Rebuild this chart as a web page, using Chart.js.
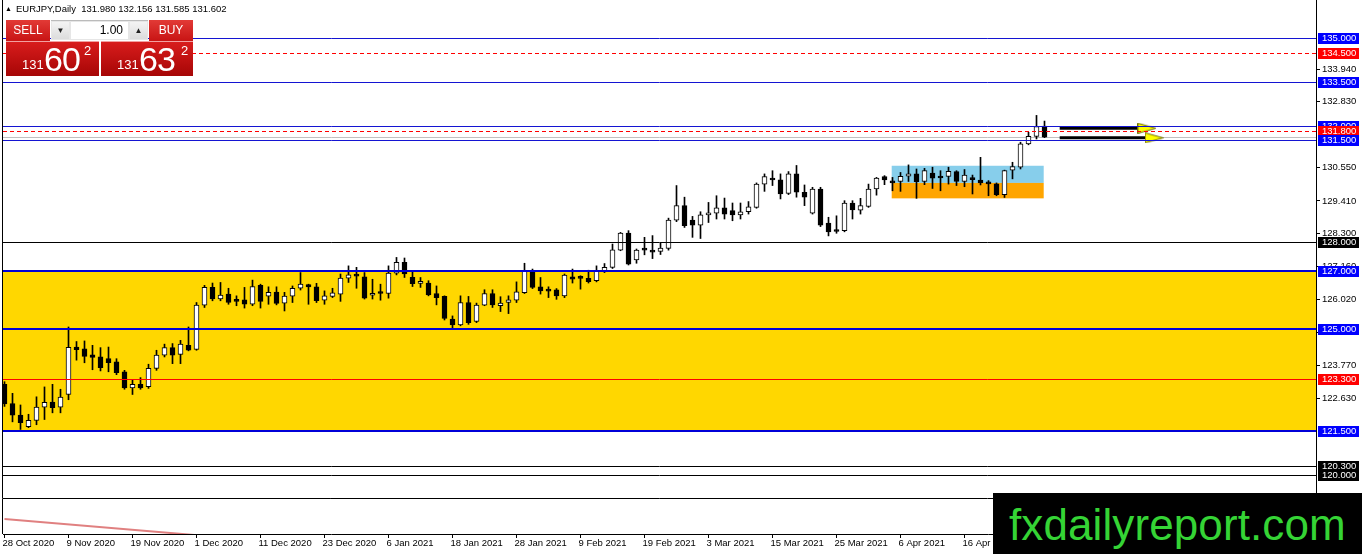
<!DOCTYPE html>
<html>
<head>
<meta charset="utf-8">
<script src="https://cdn.jsdelivr.net/npm/chart.js@4.4.1/dist/chart.umd.min.js"></script>
<style>
    body { margin: 0; width: 1362px; height: 554px; overflow: hidden; position: relative; background: #fff; font-family: "Liberation Sans", Arial, sans-serif; }
    #mainBox { position: absolute; left: 0; top: 0; width: 1362px; height: 499px; }
    #subBox { position: absolute; left: 0; top: 499px; width: 1362px; height: 55px; }
    #header { position: absolute; left: 5px; top: 3px; font-size: 9.5px; color: #000; white-space: pre; }
    #header .tri { font-size: 7px; position: relative; top: -1px; margin-right: 4px; }
    .btn { position: absolute; top: 20px; height: 21px; width: 44px; color: #fff; font-size: 12px; line-height: 21px; text-align: center; background: linear-gradient(#e23a36, #c81414); }
    #spin { position: absolute; left: 51px; top: 20px; width: 97px; height: 20px; background: #e6e6e6; border-top: 1px solid #bbb; box-sizing: border-box; }
    #spin .arr { position: absolute; top: 1px; width: 17px; height: 17px; font-size: 8px; line-height: 17px; text-align: center; background: linear-gradient(#f4f4f4, #dcdcdc); color: #222; }
    #spin .val { position: absolute; left: 20px; top: 1px; width: 57px; height: 17px; background: #fff; font-size: 12px; line-height: 17px; text-align: right; box-sizing: border-box; padding-right: 5px; }
    .price { position: absolute; top: 41px; height: 35px; color: #fff; background: linear-gradient(#d81c1c, #a60606); border-top: 1px solid #f2a0a0; box-sizing: border-box; }
    .price .small { position: absolute; bottom: 4px; font-size: 13px; }
    .price .big { position: absolute; bottom: -3px; font-size: 34px; letter-spacing: -1px; }
    .price .sup { position: absolute; top: 1px; font-size: 13px; }
    #logo { position: absolute; left: 993px; top: 493px; width: 369px; height: 61px; background: #000; }
    #logo span { position: absolute; left: 16px; top: 10px; font-size: 44px; line-height: 44px; color: #35d435; letter-spacing: 0.1px; }
</style>
</head>
<body>
<div id="mainBox"><canvas id="priceChart"></canvas></div>
<div id="subBox"><canvas id="subChart"></canvas></div>
<div id="header"></div>
<div class="btn" style="left:6px">SELL</div>
<div id="spin">
    <div class="arr" style="left:1px">&#9660;</div>
    <div class="val">1.00</div>
    <div class="arr" style="left:79px">&#9650;</div>
</div>
<div class="btn" style="left:149px">BUY</div>
<div class="price" style="left:6px;width:93px"><span class="small" style="left:16px">131</span><span class="big" style="left:38px">60</span><span class="sup" style="left:78px">2</span></div>
<div class="price" style="left:101px;width:92px"><span class="small" style="left:16px">131</span><span class="big" style="left:38px">63</span><span class="sup" style="left:80px">2</span></div>
<div id="logo"><span>fxdailyreport.com</span></div>
<script>
// EURJPY daily, bar 0 = 28 Oct 2020
const opens = [
    123.11, 122.45, 122.05, 121.65, 121.87, 122.32, 122.50, 122.32, 122.76, 124.39,
    124.33, 124.12, 124.05, 123.99, 123.88, 123.54, 122.99, 123.11, 123.03, 123.66,
    124.11, 124.37, 124.14, 124.45, 124.31, 125.83, 126.44, 126.04, 126.21, 126.01,
    126.01, 125.86, 126.51, 126.14, 126.28, 125.90, 126.14, 126.41, 126.54, 126.46,
    126.00, 126.13, 126.21, 126.76, 126.87, 126.80, 126.17, 126.24, 126.23, 126.93,
    127.30, 126.79, 126.58, 126.59, 126.23, 126.13, 125.35, 125.15, 125.92, 125.27,
    125.83, 126.23, 125.81, 125.92, 126.00, 126.26, 127.03, 126.46, 126.32, 126.36,
    126.15, 126.80, 126.76, 126.75, 126.67, 126.99, 127.13, 127.72, 128.31, 127.38,
    127.74, 127.69, 127.68, 127.78, 128.75, 129.25, 128.75, 128.58, 128.93, 128.99,
    129.17, 129.08, 128.93, 129.04, 129.19, 129.99, 130.20, 130.14, 129.67, 130.34,
    129.71, 128.99, 129.82, 128.65, 128.42, 128.39, 129.34, 129.09, 129.22, 129.82,
    130.25, 130.07, 130.08, 130.26, 130.34, 130.08, 130.37, 130.25, 130.25, 130.42,
    130.08, 130.21, 130.13, 130.05, 130.00, 129.63, 130.47, 130.57, 131.37, 131.63,
    131.980
];
const highs = [
    123.20, 122.80, 122.40, 122.08, 122.68, 123.02, 123.11, 122.94, 125.08, 124.58,
    124.60, 124.45, 124.37, 124.39, 123.99, 123.59, 123.26, 123.34, 123.80, 124.28,
    124.49, 124.51, 124.62, 125.08, 125.92, 126.51, 126.59, 126.61, 126.41, 126.15,
    126.44, 126.69, 126.55, 126.46, 126.46, 126.27, 126.49, 126.95, 126.55, 126.58,
    126.32, 126.41, 126.90, 127.18, 127.13, 126.95, 126.72, 126.55, 127.18, 127.47,
    127.45, 126.99, 126.78, 126.67, 126.49, 126.15, 125.46, 126.15, 126.13, 125.90,
    126.36, 126.36, 126.12, 126.15, 126.63, 127.27, 127.07, 126.78, 126.46, 126.40,
    126.90, 127.07, 126.84, 127.03, 127.18, 127.26, 127.93, 128.33, 128.39, 127.76,
    128.16, 128.22, 127.96, 128.82, 129.94, 129.54, 128.88, 129.04, 129.36, 129.59,
    129.51, 129.34, 129.34, 129.39, 130.03, 130.34, 130.45, 130.34, 130.42, 130.63,
    129.96, 129.88, 129.88, 128.85, 128.90, 129.42, 129.42, 129.50, 129.99, 130.22,
    130.28, 130.22, 130.39, 130.65, 130.51, 130.53, 130.57, 130.45, 130.57, 130.45,
    130.49, 130.30, 130.91, 130.11, 130.03, 130.47, 130.74, 131.43, 131.77, 132.35,
    132.156
];
const lows = [
    122.35, 121.82, 121.56, 121.62, 121.72, 121.90, 122.13, 122.13, 122.58, 123.94,
    123.85, 123.61, 123.57, 123.54, 123.44, 122.94, 122.76, 122.94, 122.97, 123.59,
    124.05, 123.82, 123.82, 124.26, 124.28, 125.75, 125.98, 125.98, 125.86, 125.81,
    125.73, 125.81, 125.73, 125.86, 125.84, 125.63, 125.92, 126.35, 125.86, 125.92,
    125.86, 126.09, 125.96, 126.61, 126.41, 126.04, 126.04, 126.00, 126.07, 126.87,
    126.78, 126.47, 126.44, 126.15, 125.84, 125.32, 125.00, 125.12, 125.17, 125.23,
    125.81, 125.75, 125.61, 125.54, 125.92, 126.23, 126.40, 126.21, 126.09, 126.03,
    126.09, 126.59, 126.38, 126.59, 126.63, 126.95, 127.09, 127.70, 127.21, 127.27,
    127.56, 127.43, 127.57, 127.72, 128.70, 128.50, 128.16, 128.12, 128.67, 128.79,
    128.79, 128.73, 128.79, 128.96, 129.16, 129.74, 129.94, 129.48, 129.63, 129.54,
    129.25, 128.96, 128.53, 128.21, 128.30, 128.35, 128.79, 128.96, 129.19, 129.61,
    129.97, 129.76, 129.74, 130.08, 129.50, 129.97, 129.84, 129.76, 129.99, 129.94,
    129.90, 129.65, 129.96, 129.59, 129.59, 129.53, 130.17, 130.51, 131.34, 131.54,
    131.585
];
const closes = [
    122.44, 122.05, 121.79, 121.87, 122.33, 122.49, 122.31, 122.67, 124.38, 124.30,
    124.07, 124.03, 123.68, 123.85, 123.51, 122.99, 123.11, 122.99, 123.66, 124.11,
    124.37, 124.11, 124.49, 124.28, 125.83, 126.44, 126.04, 126.18, 125.92, 125.96,
    125.86, 126.47, 125.96, 126.27, 125.89, 126.14, 126.41, 126.55, 126.46, 125.98,
    126.15, 126.25, 126.76, 126.87, 126.83, 126.07, 126.24, 126.23, 126.93, 127.30,
    126.90, 126.57, 126.60, 126.18, 126.09, 125.37, 125.15, 125.92, 125.23, 125.83,
    126.23, 125.84, 125.90, 126.01, 126.29, 127.03, 126.44, 126.32, 126.31, 126.15,
    126.86, 126.72, 126.75, 126.64, 126.99, 127.13, 127.73, 128.31, 127.24, 127.72,
    127.72, 127.65, 127.79, 128.75, 129.25, 128.56, 128.58, 128.93, 128.96, 129.17,
    128.96, 128.93, 129.04, 129.21, 129.99, 130.25, 130.13, 129.65, 130.34, 129.71,
    129.54, 129.82, 128.58, 128.35, 128.36, 129.34, 129.10, 129.25, 129.82, 130.20,
    130.13, 130.03, 130.26, 130.34, 130.07, 130.45, 130.19, 130.20, 130.43, 130.08,
    130.30, 130.14, 130.03, 130.00, 129.63, 130.45, 130.59, 131.37, 131.63, 131.97,
    131.602
];

const dateTickBars = [0, 8, 16, 24, 32, 40, 48, 56, 64, 72, 80, 88, 96, 104, 112, 120, 128];
const dateTickLabels = ["28 Oct 2020", "9 Nov 2020", "19 Nov 2020", "1 Dec 2020", "11 Dec 2020", "23 Dec 2020",
    "6 Jan 2021", "18 Jan 2021", "28 Jan 2021", "9 Feb 2021", "19 Feb 2021", "3 Mar 2021", "15 Mar 2021",
    "25 Mar 2021", "6 Apr 2021", "16 Apr 2021", "28 Apr 2021"];
const priceTicks = [133.94, 132.83, 130.55, 129.41, 128.30, 127.16, 126.02, 124.88, 123.77, 122.63];

// horizontal levels drawn by hand on the chart
const levelPrices = [135.0, 134.5, 133.5, 132.0, 131.8, 131.5, 128.0, 127.0, 125.0, 123.3, 121.5, 120.3, 120.0];
const zoneRange = [121.5, 127.0];
const boxBars = [110.9, 129.9];
const boxPrices = [130.62, 130.03, 129.50];
const arrowStartBars = [131.9, 131.9];
const arrowEndBars = [142.8, 143.7];
const arrowPrices = [131.91, 131.58];
const subLineBars = [0, 30];
const subLineValues = [0.43, -0.15];

// styles for each level, same order as levelPrices
const levelStyle = [
    { line: "#1414d2", width: 1, box: "#0000ff" },
    { line: "#ff0000", width: 1, dash: [4, 3], box: "#ff0000" },
    { line: "#1414d2", width: 1, box: "#0000ff" },
    { line: "#1414d2", width: 1, box: "#0000ff" },
    { line: "#ff0000", width: 1, dash: [4, 3], box: "#ff0000" },
    { line: "#1414d2", width: 1, box: "#0000ff" },
    { line: "#000000", width: 1, box: "#000000" },
    { line: "#0000d8", width: 2, box: "#0000ff" },
    { line: "#0000d8", width: 2, box: "#0000ff" },
    { line: "#ff0000", width: 1, box: "#ff0000" },
    { line: "#0000d8", width: 2, box: "#0000ff" },
    { line: "#000000", width: 1, box: "#000000" },
    { line: "#000000", width: 1, box: "#000000" }
];

const last = closes.length - 1;
const xMin = -0.1875;
const xMax = 163.9375;
const axisFont = { family: "'Liberation Sans', Arial, sans-serif", size: 9.5 };

Chart.defaults.font.family = axisFont.family;

document.getElementById("header").innerHTML = '<span class="tri">&#9650;</span>EURJPY,Daily  ' +
    [opens[last], highs[last], lows[last], closes[last]].map((v) => v.toFixed(3)).join(" ");

function makeFlag() {
    const c = document.createElement("canvas");
    c.width = 19;
    c.height = 11;
    const g = c.getContext("2d");
    g.beginPath();
    g.moveTo(0.5, 0.5);
    g.lineTo(18.5, 5.5);
    g.lineTo(0.5, 10.5);
    g.closePath();
    g.fillStyle = "#ffff00";
    g.fill();
    g.strokeStyle = "#6e6e00";
    g.lineWidth = 1;
    g.stroke();
    return c;
}

function crisp(v) {
    return Math.round(v) + 0.5;
}

const flagImage = makeFlag();
const barIndex = opens.map((_, i) => i);
const wickData = barIndex.map((i) => ({ x: i, y: [lows[i], highs[i]] }));
const bodyData = barIndex.map((i) => ({ x: i, y: [opens[i], closes[i]] }));

const arrowSets = arrowPrices.map((p, k) => ({
    type: "line",
    data: [{ x: arrowStartBars[k], y: p }, { x: arrowEndBars[k], y: p }],
    borderColor: "#000",
    borderWidth: 3,
    pointRadius: (ctx) => (ctx.dataIndex === 1 ? 5 : 0),
    pointStyle: (ctx) => (ctx.dataIndex === 1 ? flagImage : "circle"),
    order: 1
}));

const levelsPlugin = {
    id: "levels",
    beforeDatasetsDraw(chart) {
        const { ctx, chartArea: a, scales: { x, y } } = chart;
        ctx.save();
        ctx.beginPath();
        ctx.rect(a.left, a.top, a.width, a.height);
        ctx.clip();

        const zTop = y.getPixelForValue(zoneRange[1]);
        const zBottom = y.getPixelForValue(zoneRange[0]);
        ctx.fillStyle = "#ffd700";
        ctx.fillRect(a.left, zTop, a.width, zBottom - zTop);

        const bx1 = x.getPixelForValue(boxBars[0]);
        const bx2 = x.getPixelForValue(boxBars[1]);
        const b0 = y.getPixelForValue(boxPrices[0]);
        const b1 = y.getPixelForValue(boxPrices[1]);
        const b2 = y.getPixelForValue(boxPrices[2]);
        ctx.fillStyle = "#87ceeb";
        ctx.fillRect(bx1, b0, bx2 - bx1, b1 - b0);
        ctx.fillStyle = "#ffa500";
        ctx.fillRect(bx1, b1, bx2 - bx1, b2 - b1);

        const bid = crisp(y.getPixelForValue(closes[last]));
        ctx.strokeStyle = "#c0c0c0";
        ctx.lineWidth = 1;
        ctx.beginPath();
        ctx.moveTo(a.left, bid);
        ctx.lineTo(a.right, bid);
        ctx.stroke();
        ctx.restore();
    },
    afterDatasetsDraw(chart) {
        const { ctx, chartArea: a, scales: { y } } = chart;
        ctx.save();
        levelPrices.forEach((p, k) => {
            const st = levelStyle[k];
            const py = st.width === 1 ? crisp(y.getPixelForValue(p)) : Math.round(y.getPixelForValue(p));
            ctx.strokeStyle = st.line;
            ctx.lineWidth = st.width;
            ctx.setLineDash(st.dash || []);
            ctx.beginPath();
            ctx.moveTo(a.left, py);
            ctx.lineTo(a.right, py);
            ctx.stroke();
        });
        ctx.restore();
    },
    afterDraw(chart) {
        const { ctx, chartArea: a, scales: { y } } = chart;
        ctx.save();
        ctx.strokeStyle = "#000";
        ctx.lineWidth = 1;
        ctx.beginPath();
        ctx.moveTo(2.5, 0);
        ctx.lineTo(2.5, a.bottom + 0.5);
        ctx.lineTo(a.right, a.bottom + 0.5);
        ctx.stroke();

        ctx.font = "9.5px " + axisFont.family;
        ctx.textBaseline = "middle";
        ctx.textAlign = "left";
        levelPrices.forEach((p, k) => {
            const py = Math.round(y.getPixelForValue(p));
            ctx.fillStyle = levelStyle[k].box;
            ctx.fillRect(a.right + 2, py - 5, 41, 11);
            ctx.fillStyle = "#fff";
            ctx.fillText(p.toFixed(3), a.right + 6, py + 0.5);
        });
        ctx.restore();
    }
};

new Chart(document.getElementById("priceChart"), {
    type: "bar",
    data: {
        datasets: [
            {
                label: "wicks",
                data: wickData,
                backgroundColor: "#000",
                barThickness: 1,
                grouped: false,
                order: 3
            },
            {
                label: "bodies",
                data: bodyData,
                backgroundColor: (ctx) => (closes[ctx.dataIndex] >= opens[ctx.dataIndex] ? "#fff" : "#000"),
                borderColor: "#000",
                borderWidth: 1,
                borderSkipped: false,
                barThickness: 5,
                minBarLength: 2,
                grouped: false,
                order: 2
            },
            ...arrowSets
        ]
    },
    options: {
        responsive: true,
        maintainAspectRatio: false,
        animation: false,
        events: [],
        layout: { autoPadding: false, padding: { left: 3, top: 0, right: 0, bottom: 1 } },
        plugins: {
            legend: { display: false },
            tooltip: { enabled: false }
        },
        scales: {
            x: {
                type: "linear",
                min: xMin,
                max: xMax,
                offset: false,
                display: false
            },
            y: {
                type: "linear",
                position: "right",
                min: 119.203,
                max: 136.316,
                beginAtZero: false,
                afterBuildTicks: (scale) => {
                    scale.ticks = priceTicks.map((v) => ({ value: v }));
                },
                afterFit: (scale) => {
                    scale.width = 46;
                    scale.paddingTop = 0;
                    scale.paddingBottom = 0;
                },
                ticks: {
                    color: "#000",
                    padding: 2,
                    font: axisFont,
                    callback: (v) => Number(v).toFixed(3)
                },
                grid: { drawOnChartArea: false, color: "#000", tickLength: 4 },
                border: { color: "#000" }
            }
        }
    },
    plugins: [levelsPlugin]
});

const subBorderPlugin = {
    id: "subBorder",
    afterDraw(chart) {
        const { ctx, chartArea: a } = chart;
        ctx.save();
        ctx.strokeStyle = "#000";
        ctx.lineWidth = 1;
        ctx.beginPath();
        ctx.moveTo(2.5, a.top);
        ctx.lineTo(2.5, a.bottom);
        ctx.stroke();
        ctx.restore();
    }
};

new Chart(document.getElementById("subChart"), {
    type: "line",
    data: {
        datasets: [{
            data: subLineBars.map((b, i) => ({ x: b, y: subLineValues[i] })),
            borderColor: "#e08080",
            borderWidth: 2,
            pointRadius: 0
        }]
    },
    options: {
        responsive: true,
        maintainAspectRatio: false,
        animation: false,
        events: [],
        layout: { autoPadding: false, padding: { left: 3, top: 0, right: 0, bottom: 0 } },
        plugins: {
            legend: { display: false },
            tooltip: { enabled: false }
        },
        scales: {
            x: {
                type: "linear",
                min: xMin,
                max: xMax,
                offset: false,
                afterBuildTicks: (scale) => {
                    scale.ticks = dateTickBars.map((v) => ({ value: v }));
                },
                afterFit: (scale) => {
                    scale.height = 20;
                    scale.paddingLeft = 0;
                    scale.paddingRight = 0;
                },
                ticks: {
                    color: "#000",
                    font: axisFont,
                    align: "start",
                    labelOffset: -2,
                    padding: 0,
                    maxRotation: 0,
                    autoSkip: false,
                    callback: (v, i) => dateTickLabels[i]
                },
                grid: { drawOnChartArea: false, color: "#000", tickLength: 4 },
                border: { color: "#000" }
            },
            y: {
                type: "linear",
                position: "right",
                min: 0,
                max: 1,
                afterFit: (scale) => {
                    scale.width = 46;
                    scale.paddingTop = 0;
                    scale.paddingBottom = 0;
                },
                ticks: { display: false },
                grid: { display: false },
                border: { color: "#000" }
            }
        }
    },
    plugins: [subBorderPlugin]
});
</script>
</body>
</html>
